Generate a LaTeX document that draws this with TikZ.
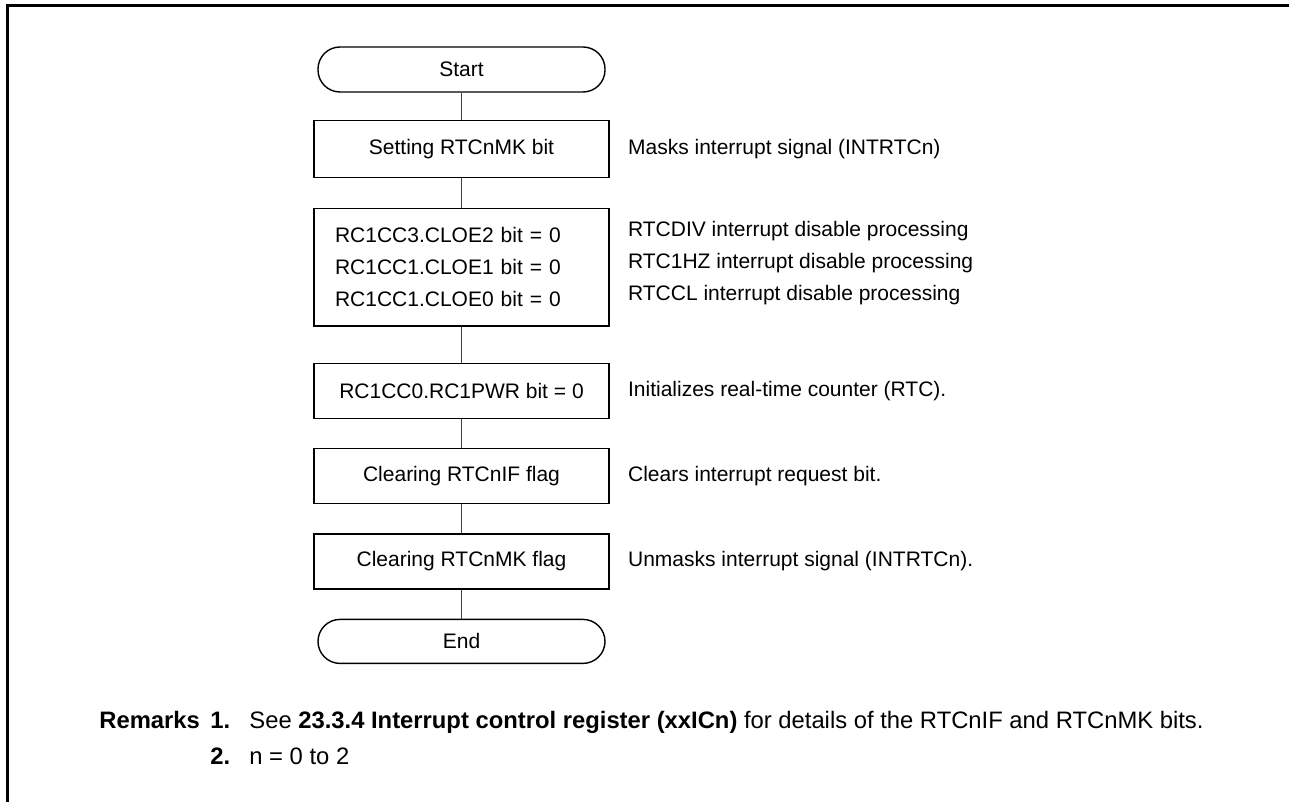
\documentclass[tikz,border=0pt]{standalone}
\usepackage{fontspec}
\setmainfont{Liberation Sans}
\usetikzlibrary{positioning}
\tikzset{
  procbox/.style={draw, line width=0.7pt, align=center, inner sep=0pt,
    minimum width=147.5pt, minimum height=27.5pt},
  listbox/.style={procbox, align=left, text width=126.5pt, inner xsep=10.5pt,
    minimum height=58.5pt},
  termbox/.style={draw, line width=0.7pt, rounded corners=11pt, inner sep=0pt,
    minimum width=143.5pt, minimum height=22.5pt},
  note/.style={align=left, inner sep=0pt},
  remark/.style={anchor=base west, inner sep=0pt, font=\fontsize{11.9}{14}\selectfont},
  link/.style={draw=black!75, line width=0.6pt},
  frameline/.style={line width=1.5pt}
}
\begin{document}
\begin{tikzpicture}[x=0.5pt, y=-0.5pt, node distance=14.5pt,
    font=\fontsize{10.5}{16}\selectfont]
  \useasboundingbox (0,0) rectangle (1289,802);
  \draw[frameline] (7,802) -- (7,6) -- (1289,6);

  \node[termbox] (start) at (461.5,69.5) {Start};
  \node[procbox, below=13.5pt of start, minimum height=28.5pt] (setmk) {Setting RTCnMK bit};
  \node[listbox, below=15pt of setmk] (cloe)
    {RC1CC3.CLOE2 bit = 0\\RC1CC1.CLOE1 bit = 0\\RC1CC1.CLOE0 bit = 0};
  \node[procbox, below=18pt of cloe] (pwr) {RC1CC0.RC1PWR bit = 0};
  \node[procbox, below=of pwr] (clrif) {Clearing RTCnIF flag};
  \node[procbox, below=of clrif] (clrmk) {Clearing RTCnMK flag};
  \node[termbox, below=of clrmk, minimum height=22pt] (end) {End};

  \draw[link] (start) -- (setmk);
  \draw[link] (setmk) -- (cloe);
  \draw[link] (cloe) -- (pwr);
  \draw[link] (pwr) -- (clrif);
  \draw[link] (clrif) -- (clrmk);
  \draw[link] (clrmk) -- (end);

  \node[note, right=9pt of setmk] (setmknote) {Masks interrupt signal (INTRTCn)};
  \node[note, right=9pt of cloe, yshift=2pt] (cloenote)
    {RTCDIV interrupt disable processing\\RTC1HZ interrupt disable processing\\RTCCL interrupt disable processing};
  \node[note, right=9pt of pwr] (pwrnote) {Initializes real-time counter (RTC).};
  \node[note, right=9pt of clrif] (clrifnote) {Clears interrupt request bit.};
  \node[note, right=9pt of clrmk] (clrmknote) {Unmasks interrupt signal (INTRTCn).};

  % remarks
  \node[remark] (remarks) at (99,728) {\bfseries Remarks};
  \node[remark] (remone) at (210,728) {\bfseries 1.};
  \node[remark] (remonetext) at (249,728)
    {See \textbf{23.3.4 Interrupt control register (xxICn)} for details of the RTCnIF and RTCnMK bits.};
  \node[remark] (remtwo) at (210,764) {\bfseries 2.};
  \node[remark] (remtwotext) at (249,764) {n = 0 to 2};
\end{tikzpicture}
\end{document}
